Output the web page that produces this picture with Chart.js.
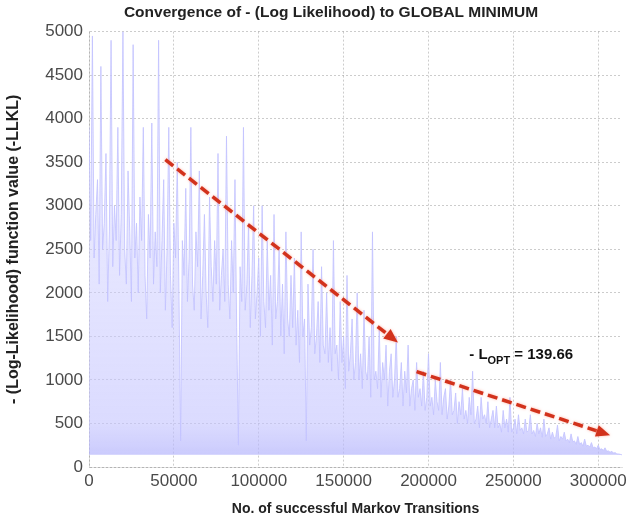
<!DOCTYPE html>
<html>
<head>
<meta charset="utf-8">
<script src="https://cdn.jsdelivr.net/npm/chart.js@4.4.0/dist/chart.umd.min.js"></script>
<style>
  html, body { margin: 0; padding: 0; background: #fff; }
  #wrap { width: 637px; height: 519px; }
</style>
</head>
<body>
<div id="wrap"><canvas id="chart" width="637" height="519"></canvas></div>
<script>
// one sample every 1000 successful transitions
const xStep = 1000;

// -LLKL values (spikes and valleys), 0 .. 314000
const llkl = [
  3900, 2600, 4950, 2400, 2900, 3300, 2100, 4600, 2500, 2800, 3600, 1900, 2700, 4900, 2300, 3000, 2600, 3900, 2200, 2900,
  5000, 2500, 2100, 3400, 2700, 1900, 4850, 2400, 2800, 2000, 3100, 2600, 3900, 2200, 1700, 2900, 2400, 3950, 2100, 2700,
  2300, 4900, 2000, 2600, 3300, 1800, 2500, 3900, 2200, 1600, 2800, 2400, 3500, 2000, 300, 2600, 2200, 3200, 1900, 2400,
  3900, 2100, 1800, 2700, 2300, 3400, 1700, 2200, 2900, 2000, 1600, 3100, 2300, 1900, 2600, 2100, 3600, 1800, 2200, 2500,
  1900, 3800, 2100, 1700, 2600, 2000, 3300, 1600, 250, 2300, 1900, 3900, 1800, 2100, 2800, 1600, 2200, 3000, 1700, 2000,
  2400, 1500, 3000, 1900, 1600, 2600, 1800, 2200, 1400, 2900, 1700, 1900, 2500, 1500, 2100, 1300, 2700, 1700, 1500, 2200,
  1600, 2400, 1400, 1800, 1200, 2700, 1500, 1700, 300, 2100, 1400, 1600, 2500, 1300, 1500, 1900, 1200, 2300, 1400, 1300,
  2000, 1200, 1600, 1100, 2600, 1300, 1400, 1000, 1900, 1200, 1500, 900, 2200, 1100, 1300, 1700, 1000, 1200, 2000, 1000,
  1300, 900, 1800, 1100, 1000, 1500, 800, 2700, 1000, 1100, 900, 1600, 800, 1200, 1000, 1400, 700, 1100, 1300, 800,
  1000, 1500, 800, 900, 1200, 700, 1100, 850, 1400, 700, 900, 1000, 650, 1200, 800, 900, 700, 1100, 650, 800,
  1300, 700, 800, 600, 1000, 750, 650, 1200, 600, 800, 900, 550, 700, 1000, 600, 650, 850, 500, 750, 600,
  900, 550, 650, 500, 800, 600, 1100, 500, 550, 700, 450, 800, 550, 600, 500, 750, 450, 550, 650, 450,
  700, 450, 500, 400, 650, 450, 550, 400, 800, 400, 450, 550, 380, 600, 420, 450, 380, 550, 400, 420,
  600, 380, 420, 350, 500, 380, 450, 340, 550, 350, 380, 450, 320, 400, 330, 350, 480, 300, 350, 320,
  400, 300, 320, 280, 380, 290, 300, 260, 350, 260, 280, 240, 320, 240, 250, 230, 280, 220, 230, 210,
  250, 200, 210, 190, 220, 180, 185, 170, 180, 160, 165, 150, 150, 145, 140
];

const transitions = llkl.map((v, i) => i * xStep);

const lOpt = 139.66;

const xTicks = [0, 50000, 100000, 150000, 200000, 250000, 300000];
const yTicks = [0, 500, 1000, 1500, 2000, 2500, 3000, 3500, 4000, 4500, 5000];

// annotation arrows in data units: [x0, y0, x1, y1]
const arrows = [
  [45000, 3530, 182000, 1430],
  [193000, 1095, 307000, 365]
];
const labelAt = [224000, 1240];

const FONT = '"Liberation Sans", Arial, sans-serif';

const annotate = {
  id: 'annotate',
  afterLayout(chart) {
    // title in the source sits a little right of the canvas centre
    const t = chart.titleBlock;
    if (t) { t.left += 40; t.width = t.right - t.left; }
  },
  afterDatasetsDraw(chart) {
    const { ctx, scales: { x, y } } = chart;
    ctx.save();
    arrows.forEach(a => {
      const x0 = x.getPixelForValue(a[0]), y0 = y.getPixelForValue(a[1]);
      const x1 = x.getPixelForValue(a[2]), y1 = y.getPixelForValue(a[3]);
      const ang = Math.atan2(y1 - y0, x1 - x0);
      const head = 14;
      const bx = x1 - head * Math.cos(ang), by = y1 - head * Math.sin(ang);
      ctx.shadowColor = 'rgba(255,150,130,0.7)';
      ctx.shadowBlur = 3;
      ctx.strokeStyle = '#d2321c';
      ctx.lineWidth = 3.5;
      ctx.setLineDash([10, 5]);
      ctx.beginPath();
      ctx.moveTo(x0, y0);
      ctx.lineTo(bx, by);
      ctx.stroke();
      ctx.setLineDash([]);
      ctx.fillStyle = '#d2321c';
      ctx.beginPath();
      ctx.moveTo(x1, y1);
      ctx.lineTo(bx + 6 * Math.sin(ang), by - 6 * Math.cos(ang));
      ctx.lineTo(bx - 6 * Math.sin(ang), by + 6 * Math.cos(ang));
      ctx.closePath();
      ctx.fill();
    });
    ctx.shadowBlur = 0;
    ctx.shadowColor = 'transparent';
    // - L_OPT = 139.66
    let px = x.getPixelForValue(labelAt[0]);
    const py = y.getPixelForValue(labelAt[1]);
    ctx.fillStyle = '#111';
    ctx.textBaseline = 'alphabetic';
    ctx.font = 'bold 15px ' + FONT;
    ctx.fillText('- L', px, py);
    px += ctx.measureText('- L').width;
    ctx.font = 'bold 11px ' + FONT;
    ctx.fillText('OPT', px, py + 5);
    px += ctx.measureText('OPT').width;
    ctx.font = 'bold 15px ' + FONT;
    ctx.fillText(' = ' + lOpt.toFixed(2), px, py);
    ctx.restore();
  }
};

// fill gets a bit deeper towards the floor
function fillColour(context) {
  const { chart } = context;
  const area = chart.chartArea;
  if (!area) return 'rgba(195,195,255,0.55)';
  const y = chart.scales.y;
  const g = chart.ctx.createLinearGradient(0, y.getPixelForValue(0), 0, y.getPixelForValue(5000));
  g.addColorStop(0, 'rgba(175,175,250,0.75)');
  g.addColorStop(0.1, 'rgba(195,195,255,0.6)');
  g.addColorStop(0.5, 'rgba(205,205,255,0.5)');
  g.addColorStop(1, 'rgba(215,215,255,0.45)');
  return g;
}

new Chart(document.getElementById('chart'), {
  type: 'line',
  data: {
    datasets: [{
      data: transitions.map((t, i) => ({ x: t, y: llkl[i] })),
      borderColor: 'rgba(195,195,255,0.85)',
      borderWidth: 1,
      backgroundColor: fillColour,
      fill: { value: lOpt },
      pointRadius: 0,
      tension: 0
    }]
  },
  options: {
    responsive: false,
    animation: false,
    layout: { padding: { left: 0, right: 15, top: 0, bottom: 1 } },
    plugins: {
      legend: { display: false },
      tooltip: { enabled: false },
      title: {
        display: true,
        text: 'Convergence of - (Log Likelihood) to GLOBAL MINIMUM',
        color: '#222',
        font: { family: FONT, size: 15.5, weight: 'bold' },
        padding: { top: 3, bottom: 10 }
      }
    },
    scales: {
      x: {
        type: 'linear',
        min: 0,
        max: 314000,
        afterBuildTicks: s => { s.ticks = xTicks.map(v => ({ value: v })); },
        afterFit: s => { s.height = 51; },
        ticks: {
          maxRotation: 0,
          autoSkip: false,
          padding: 4,
          color: '#4a4a4a',
          font: { family: FONT, size: 17 },
          callback: v => String(v)
        },
        grid: { color: 'rgba(0,0,0,0.2)', drawTicks: false },
        border: { color: 'rgba(0,0,0,0.12)', dash: [2, 2] },
        title: {
          display: true,
          text: 'No. of successful Markov Transitions',
          color: '#222',
          font: { family: FONT, size: 14, weight: 'bold' },
          padding: { top: 5, bottom: 0 }
        }
      },
      y: {
        min: 0,
        max: 5000,
        afterBuildTicks: s => { s.ticks = yTicks.map(v => ({ value: v })); },
        afterFit: s => { s.width = 89; },
        ticks: {
          color: '#4a4a4a',
          padding: 6,
          font: { family: FONT, size: 17 },
          callback: v => String(v)
        },
        grid: { color: 'rgba(0,0,0,0.2)', drawTicks: false },
        border: { color: 'rgba(0,0,0,0.12)', dash: [2, 2] },
        title: {
          display: true,
          text: '- (Log-Likelihood) function value (-LLKL)',
          color: '#222',
          font: { family: FONT, size: 16, weight: 'bold' },
          padding: { top: 4, bottom: 0 }
        }
      }
    }
  },
  plugins: [annotate]
});
</script>
</body>
</html>
